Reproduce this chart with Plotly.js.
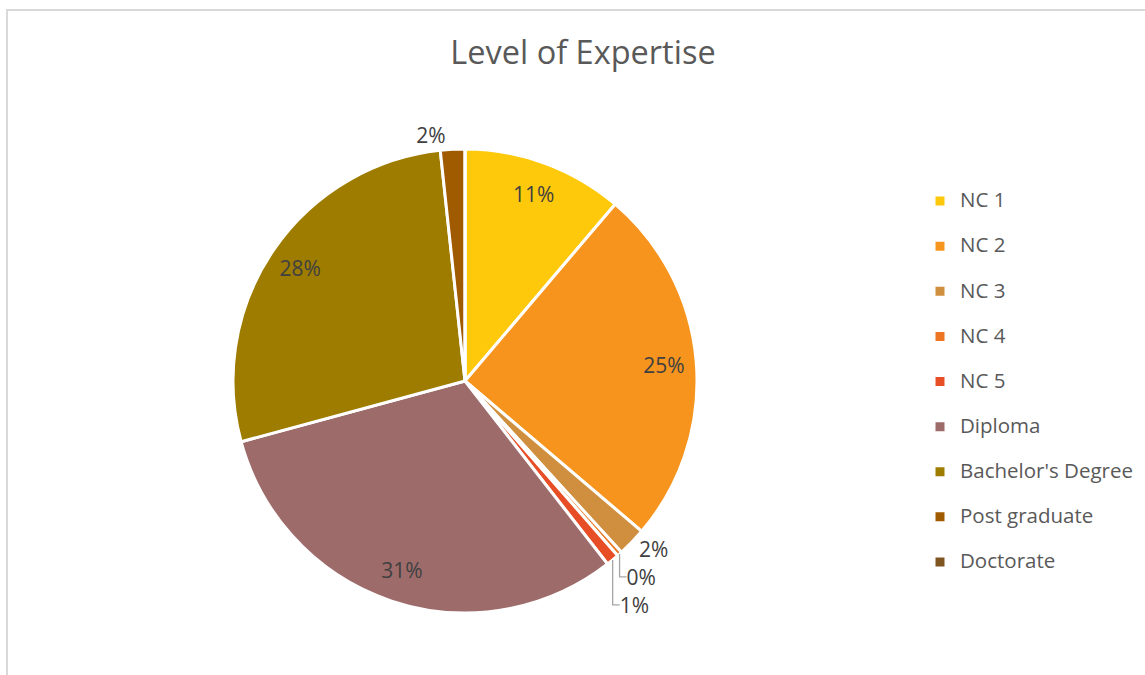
<!DOCTYPE html>
<html>
<head>
<meta charset="utf-8">
<script src="https://cdn.plot.ly/plotly-3.0.1.min.js"></script>
<style>
  html, body { margin: 0; padding: 0; background: #fff; }
  #wrap { position: relative; width: 1145px; height: 675px; overflow: hidden; }
  #chart { position: absolute; left: 0; top: 0; width: 1145px; height: 675px; }
  .bt { position: absolute; left: 6px; top: 9px; width: 1139px; height: 2px; background: #d9d9d9; }
  .bl { position: absolute; left: 6px; top: 9px; width: 2px; height: 666px; background: #d9d9d9; }
  #chart path.textline { stroke: #a6a6a6 !important; stroke-width: 1.3px !important; }
</style>
</head>
<body>
<div id="wrap">
  <div id="chart"></div>
  <div class="bt"></div>
  <div class="bl"></div>
</div>
<script>
// Data (percent of respondents)
const categories = ["NC 1", "NC 2", "NC 3", "NC 4", "NC 5", "Diploma", "Bachelor's Degree", "Post graduate", "Doctorate"];
const values = [11.2, 25.0, 2.0, 0.35, 0.9, 31.3, 27.5, 1.7, 0];
const colors = ["#FFC90B", "#F7941E", "#CF8F3F", "#EE7623", "#E84E25", "#9E6B6B", "#9E7C00", "#A05A00", "#7E5421"];
const labelPositions = ["inside", "inside", "outside", "outside", "outside", "inside", "inside", "outside", "none"];
const showLabel = [true, true, true, true, true, true, true, true, false];

const legendLabels = categories.map(c => "<span style='font-size:20.5px'>" + c + "</span><br> ");
const templates = showLabel.map(s => s ? "%{percent:.0%}" : "");
const pieDomain = { x: [233 / 1145, 697 / 1145], y: [62 / 675, 526 / 675] };

// Filled slices (with legend)
const slices = {
  type: "pie",
  labels: legendLabels,
  values: values,
  sort: false,
  direction: "clockwise",
  rotation: 0,
  marker: { colors: colors, line: { color: "#ffffff", width: 3 } },
  textinfo: "none",
  hoverinfo: "none",
  domain: pieDomain
};

// Same slices as a transparent ring, carrying the data labels near the rim
const labelsRing = {
  type: "pie",
  labels: legendLabels,
  values: values,
  sort: false,
  direction: "clockwise",
  rotation: 0,
  hole: 0.72,
  showlegend: false,
  marker: { colors: colors.map(() => "rgba(0,0,0,0)"), line: { width: 0 } },
  texttemplate: templates,
  textposition: labelPositions,
  insidetextorientation: "horizontal",
  textfont: { family: "Open Sans, sans-serif", size: 21, color: "#404040" },
  hoverinfo: "none",
  domain: pieDomain
};

const layout = {
  width: 1145,
  height: 675,
  margin: { l: 0, r: 0, t: 0, b: 0 },
  paper_bgcolor: "#ffffff",
  font: { family: "Open Sans, sans-serif", color: "#595959" },
  title: {
    text: "Level of Expertise",
    font: { family: "Open Sans, sans-serif", size: 32.5, color: "#595959" },
    x: 583 / 1145, xanchor: "center", xref: "paper",
    y: 1 - 53 / 675, yanchor: "middle", yref: "paper"
  },
  showlegend: true,
  legend: {
    x: 920 / 1145, xanchor: "left",
    y: 1 - 184 / 675, yanchor: "top",
    valign: "top",
    font: { family: "Open Sans, sans-serif", size: 16.2, color: "#595959" },
    bgcolor: "rgba(0,0,0,0)"
  }
};

Plotly.newPlot("chart", [slices, labelsRing], layout, { displayModeBar: false, staticPlot: true });
</script>
</body>
</html>
